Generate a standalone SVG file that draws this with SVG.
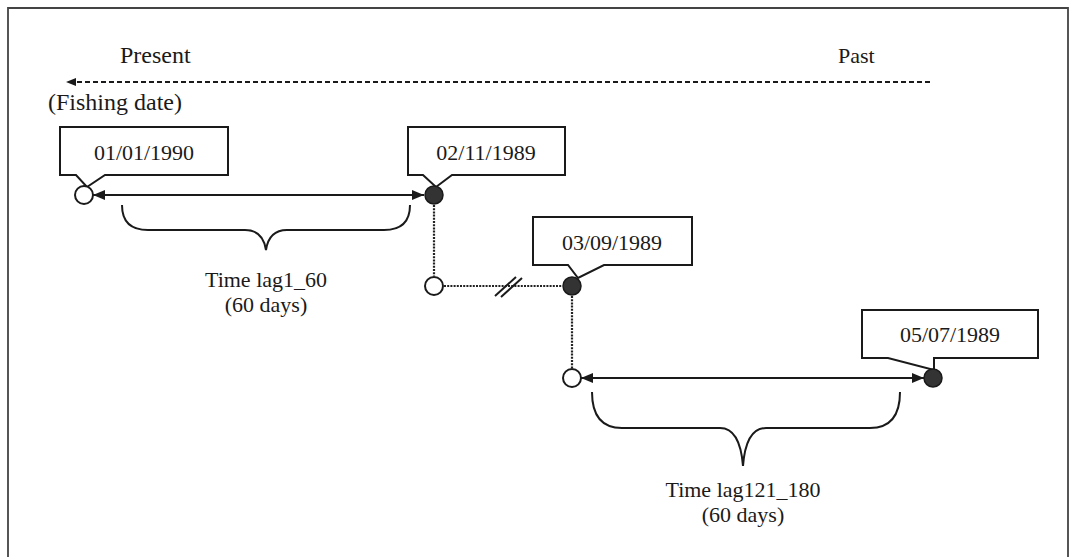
<svg xmlns="http://www.w3.org/2000/svg" width="1075" height="557" viewBox="0 0 1075 557">
<style>
text{font-family:"Liberation Serif","Times New Roman",serif;font-size:22px;fill:#1a1a1a}
.big{font-size:24px}
.box{fill:#fff;stroke:#1a1a1a;stroke-width:2}
.open{fill:#fff;stroke:#1a1a1a;stroke-width:2}
.fill{fill:#333;stroke:#1a1a1a;stroke-width:1.5}
.solid{stroke:#1a1a1a;stroke-width:2;fill:none}
.dot{stroke:#222;stroke-width:2.2;stroke-dasharray:2 1.2;fill:none}
.brace{stroke:#1a1a1a;stroke-width:2;fill:none}
</style>
<defs>
<marker id="ah" viewBox="0 0 12 10" refX="12" refY="5" markerWidth="12" markerHeight="10" orient="auto-start-reverse" markerUnits="userSpaceOnUse">
<path d="M0,0 L12,5 L0,10 z" fill="#1a1a1a"/>
</marker>
<marker id="dh" viewBox="0 0 10 8" refX="10" refY="4" markerWidth="10" markerHeight="8" orient="auto" markerUnits="userSpaceOnUse">
<path d="M0,0 L10,4 L0,8 z" fill="#1a1a1a"/>
</marker>
</defs>
<path d="M8,570 V8 H1068 V570" fill="none" stroke="#444" stroke-width="1.8"/>
<g id="time-direction">
<text class="big" x="120" y="63">Present</text>
<text x="838" y="63">Past</text>
<line x1="930" y1="82" x2="66" y2="82" stroke="#1a1a1a" stroke-width="2" stroke-dasharray="5 3" marker-end="url(#dh)"/>
</g>
<g id="connectors">
<line class="solid" x1="93" y1="195" x2="424" y2="195" marker-start="url(#ah)" marker-end="url(#ah)"/>
<line class="solid" x1="581" y1="378" x2="924" y2="378" marker-start="url(#ah)" marker-end="url(#ah)"/>
<line class="dot" x1="434" y1="205" x2="434" y2="276"/>
<line class="dot" x1="444" y1="286" x2="562" y2="286"/>
<line class="dot" x1="572" y1="296" x2="572" y2="368"/>
<line class="solid" x1="495" y1="296" x2="516" y2="277"/>
<line class="solid" x1="501" y1="297" x2="522" y2="278"/>
</g>
<g id="label-fishing">
<text class="big" x="48" y="110">(Fishing date)</text>
</g>
<g id="n1">
<path class="box" d="M60,127 H228 V175 H105 L87,187 L76,175 H60 Z"/>
<text x="144" y="160" text-anchor="middle">01/01/1990</text>
<circle class="open" cx="84" cy="195" r="9"/>
</g>
<g id="n2">
<path class="box" d="M408,127 H565 V175 H452 L436,187 L423,175 H408 Z"/>
<text x="486" y="160" text-anchor="middle">02/11/1989</text>
<circle class="fill" cx="434" cy="195" r="9"/>
</g>
<g id="n3">
<circle class="open" cx="434" cy="286" r="9"/>
</g>
<g id="n4">
<path class="box" d="M533,217 H692 V265 H604 L578,278 L568,265 H533 Z"/>
<text x="612" y="250" text-anchor="middle">03/09/1989</text>
<circle class="fill" cx="572" cy="286" r="9"/>
</g>
<g id="n5">
<circle class="open" cx="572" cy="378" r="9"/>
</g>
<g id="n6">
<path class="box" d="M862,310 H1038 V358 H934 V370 L888,358 H862 Z"/>
<text x="950" y="342" text-anchor="middle">05/07/1989</text>
<circle class="fill" cx="933" cy="378" r="9"/>
</g>
<g id="brace1">
<path class="brace" d="M122,205 Q122,230 148,230 H245 Q263,230 266,250 Q269,230 287,230 H384 Q410,230 410,205"/>
<text x="266" y="287" text-anchor="middle">Time lag1_60</text>
<text x="266" y="312" text-anchor="middle">(60 days)</text>
</g>
<g id="brace2">
<path class="brace" d="M592,392 Q592,428 622,428 H720 Q740,428 743,466 Q746,428 766,428 H870 Q900,428 900,392"/>
<text x="743" y="497" text-anchor="middle">Time lag121_180</text>
<text x="743" y="522" text-anchor="middle">(60 days)</text>
</g>
</svg>
